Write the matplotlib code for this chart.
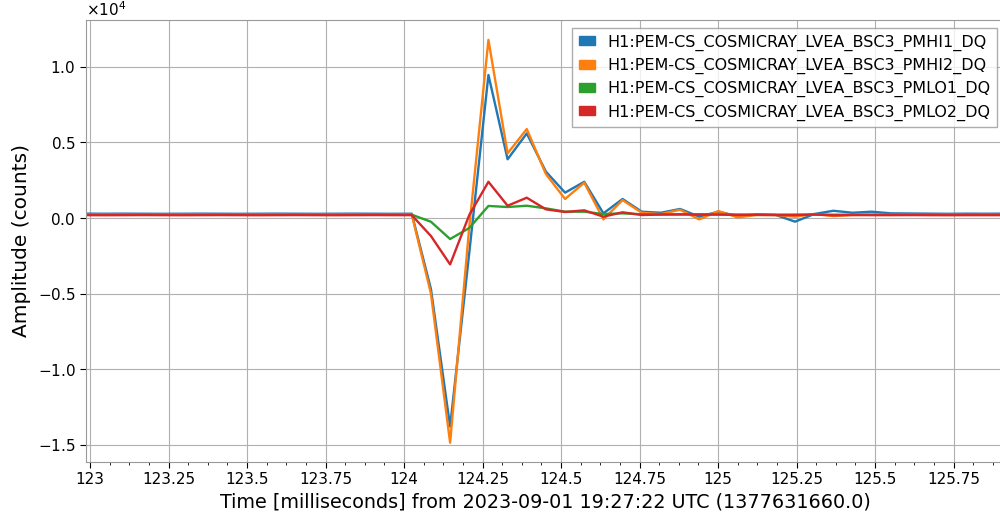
import numpy as np
import matplotlib
matplotlib.use("Agg")
import matplotlib.pyplot as plt
from matplotlib.ticker import AutoMinorLocator, FuncFormatter, MultipleLocator, ScalarFormatter
from matplotlib.patches import Patch

# Cosmic-ray PMT channels, 16384 Hz sampling, time in ms from the GPS epoch below
sample_rate_khz = 16.384
t_start_ms = 122.987

channels = [
    "H1:PEM-CS_COSMICRAY_LVEA_BSC3_PMHI1_DQ",
    "H1:PEM-CS_COSMICRAY_LVEA_BSC3_PMHI2_DQ",
    "H1:PEM-CS_COSMICRAY_LVEA_BSC3_PMLO1_DQ",
    "H1:PEM-CS_COSMICRAY_LVEA_BSC3_PMLO2_DQ",
]

pmhi1 = [290, 285, 290, 285, 280, 285, 290, 285, 280, 285, 290, 285, 280, 285, 290, 285, 280, 285,
         -4700, -13800, -2300, 9470, 3890, 5600, 3070, 1680, 2400, 310, 1260, 420, 350, 600, 90, 420,
         130, 240, 200, -240, 265, 480, 350, 420, 310, 300, 290, 280, 290, 285, 290]
pmhi2 = [230, 235, 230, 225, 230, 235, 230, 225, 230, 235, 230, 225, 230, 235, 230, 225, 230, 230,
         -5000, -14870, -600, 11790, 4280, 5890, 2910, 1260, 2340, -90, 1190, 350, 265, 550, -90, 460,
         45, 200, 200, 90, 265, 130, 200, 220, 210, 220, 210, 220, 215, 220, 215]
pmlo1 = [220, 220, 215, 220, 225, 220, 215, 220, 225, 220, 215, 220, 225, 220, 215, 220, 220, 220,
         -245, -1390, -660, 800, 730, 815, 640, 420, 420, 265, 310, 250, 240, 230, 250, 240,
         230, 230, 220, 230, 220, 220, 215, 220, 220, 215, 220, 220, 215, 220, 220]
pmlo2 = [190, 185, 190, 195, 190, 185, 190, 195, 190, 185, 190, 195, 190, 185, 190, 195, 190, 190,
         -1190, -3070, 200, 2400, 815, 1345, 575, 400, 510, 90, 380, 200, 230, 250, 220, 230,
         200, 210, 200, 190, 240, 180, 200, 190, 190, 195, 190, 185, 190, 190, 190]

series = [pmhi1, pmhi2, pmlo1, pmlo2]
colors = ["#1f77b4", "#ff7f0e", "#2ca02c", "#d62728"]

x_ticks = [123, 123.25, 123.5, 123.75, 124, 124.25, 124.5, 124.75, 125, 125.25, 125.5, 125.75]
x_range = (122.987, 125.914)
y_range = (-16150, 13110)

plt.rcParams["font.family"] = ["DejaVu Sans"]

fig = plt.figure(figsize=(10, 5.19), dpi=100)
ax = fig.add_axes([0.086, 0.1098, 0.919, 0.8517])

dt = 1.0 / sample_rate_khz
for values, color in zip(series, colors):
    t = t_start_ms + dt * np.arange(len(values))
    ax.plot(t, values, color=color, lw=1.7)

ax.set_xlim(*x_range)
ax.set_ylim(*y_range)
ax.set_xticks(x_ticks)
ax.xaxis.set_major_formatter(FuncFormatter(lambda v, p: f"{v:g}"))
ax.xaxis.set_minor_locator(AutoMinorLocator(4))
ax.yaxis.set_major_locator(MultipleLocator(5000))

fmt = ScalarFormatter(useMathText=True)
fmt.set_powerlimits((0, 0))
ax.yaxis.set_major_formatter(fmt)

ax.tick_params(axis="both", which="major", labelsize=11, direction="out", length=4)
ax.tick_params(axis="x", which="minor", length=2)
ax.yaxis.offsetText.set_fontsize(11)

ax.grid(True, which="major", color="#b0b0b0", lw=0.8)
for s in ax.spines.values():
    s.set_color("#999999")

ax.set_xlabel("Time [milliseconds] from 2023-09-01 19:27:22 UTC (1377631660.0)", fontsize=13.8)
ax.set_ylabel("Amplitude (counts)", fontsize=14.5, labelpad=5)

handles = [Patch(facecolor=c, edgecolor=c) for c in colors]
ax.legend(handles, channels, loc="upper right", fontsize=11.5, fancybox=False,
          edgecolor="#999999", framealpha=0.8, handlelength=1.0, handleheight=0.5,
          borderaxespad=0.5, labelspacing=0.45)

fig.savefig("out.png", dpi=100)
